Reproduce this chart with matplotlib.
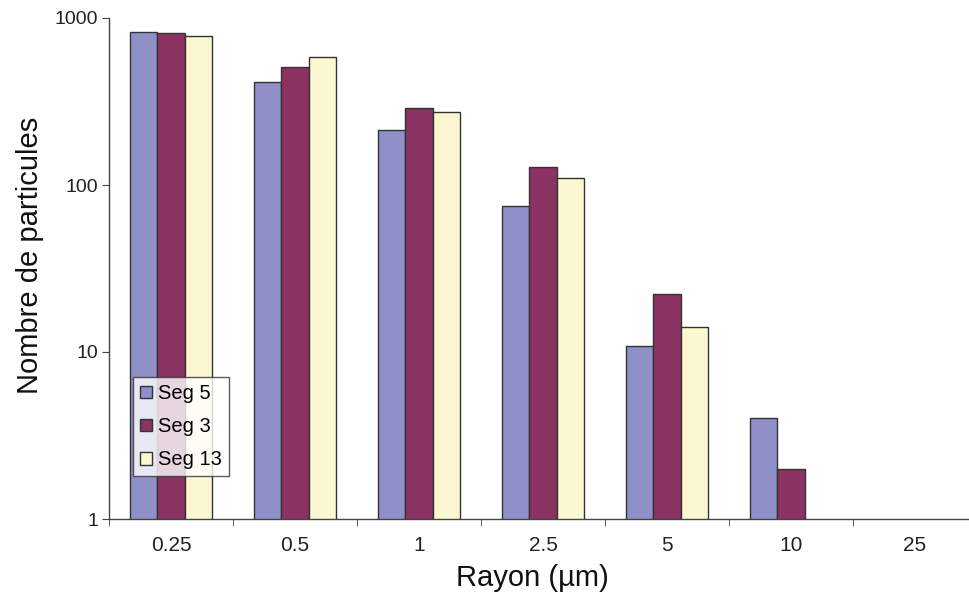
import numpy as np
import matplotlib.pyplot as plt
from matplotlib.ticker import FixedLocator, NullLocator

plt.rcParams['font.family'] = ['Liberation Sans', 'DejaVu Sans']

# données
rayons = ['0.25', '0.5', '1', '2.5', '5', '10', '25']
seg5 = [824, 415, 213, 74.5, 10.9, 4.0, np.nan]
seg3 = [809, 509, 289, 129, 22.3, 2.0, np.nan]
seg13 = [783, 582, 274, 110, 14.1, np.nan, np.nan]
series = [('Seg 5', seg5, '#9090C8'), ('Seg 3', seg3, '#8A3262'), ('Seg 13', seg13, '#FBF7D0')]

fig = plt.figure(figsize=(9.7, 6.05), dpi=100)
ax = fig.add_axes([109 / 970, 1 - 519 / 605, 868 / 970, 501 / 605])

x = np.arange(len(rayons))
w = 0.22
for i, (nom, vals, col) in enumerate(series):
    ax.bar(x + (i - 1) * w, vals, width=w, color=col, edgecolor='#333333',
           linewidth=1.0, label=nom)

ax.set_yscale('log')
ax.set_ylim(1, 1000)
ax.set_xlim(-0.5, len(rayons) - 0.5)
ax.yaxis.set_major_locator(FixedLocator([1, 10, 100, 1000]))
ax.yaxis.set_minor_locator(NullLocator())
ax.set_yticklabels(['1', '10', '100', '1000'])

# ticks aux limites des catégories, étiquettes centrées
ax.set_xticks(x)
ax.set_xticklabels(rayons)
ax.set_xticks(np.arange(-0.5, len(rayons)), minor=True)
ax.tick_params(axis='x', which='major', length=0, pad=12, labelsize=15, colors='#222222')
ax.tick_params(axis='x', which='minor', length=5, direction='out', color='#444444')
ax.tick_params(axis='y', which='major', length=5, direction='out', labelsize=14,
               colors='#222222', color='#444444', pad=3)

for s in ['top', 'right']:
    ax.spines[s].set_visible(False)
for s in ['left', 'bottom']:
    ax.spines[s].set_color('#444444')
    ax.spines[s].set_linewidth(1.0)

fig.text(30 / 970, 1 - 255 / 605, 'Nombre de particules', rotation=90,
         ha='center', va='center', fontsize=21, color='#111111')
fig.text(532 / 970, 1 - 578 / 605, 'Rayon (µm)', ha='center', va='center',
         fontsize=21, color='#111111')

leg = ax.legend(loc='upper left', bbox_to_anchor=((133 - 109) / 868, (519 - 377) / 501),
                borderaxespad=0, fontsize=14.5, frameon=True, fancybox=False,
                handlelength=0.6, handleheight=0.6, handletextpad=0.3,
                labelspacing=0.7, borderpad=0.35)
leg.get_frame().set_edgecolor('#333333')
leg.get_frame().set_linewidth(1.0)

fig.savefig('out.png', dpi=100)
